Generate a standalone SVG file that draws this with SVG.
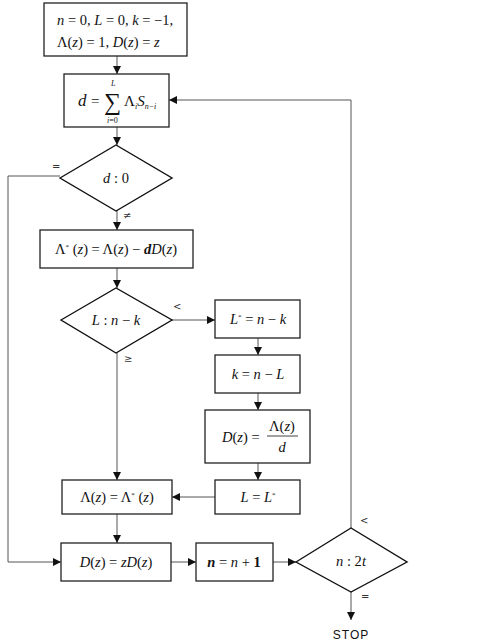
<svg xmlns="http://www.w3.org/2000/svg" width="480" height="643" viewBox="0 0 480 643">
<style>
.box{fill:#fff;stroke:#222;stroke-width:1.3}
.dia{fill:#fff;stroke:#111;stroke-width:1.4}
.ln{fill:none;stroke:#555;stroke-width:1}
.m{font-family:"Liberation Serif","DejaVu Serif",serif;font-size:14.5px;fill:#111}
.i{font-style:italic}
.b{font-weight:bold}
.lab{font-family:"DejaVu Sans",sans-serif;font-size:10px;fill:#333}
</style>
<defs>
<marker id="ah" viewBox="0 0 10 10" refX="10" refY="5" markerWidth="8" markerHeight="8" orient="auto" markerUnits="userSpaceOnUse">
<path d="M0,0 L10,5 L0,10 z" fill="#111"/>
</marker>
</defs>
<g id="connectors">
<line class="ln" x1="117" y1="56" x2="117" y2="74" marker-end="url(#ah)"/>
<line class="ln" x1="117" y1="127" x2="117" y2="145" marker-end="url(#ah)"/>
<line class="ln" x1="117" y1="211" x2="117" y2="230" marker-end="url(#ah)"/>
<line class="ln" x1="117" y1="268" x2="117" y2="288" marker-end="url(#ah)"/>
<line class="ln" x1="172" y1="320" x2="215" y2="320" marker-end="url(#ah)"/>
<line class="ln" x1="117" y1="353" x2="117" y2="480" marker-end="url(#ah)"/>
<line class="ln" x1="258" y1="338" x2="258" y2="355" marker-end="url(#ah)"/>
<line class="ln" x1="258" y1="393" x2="258" y2="410" marker-end="url(#ah)"/>
<line class="ln" x1="258" y1="463" x2="258" y2="480" marker-end="url(#ah)"/>
<line class="ln" x1="215" y1="497" x2="172" y2="497" marker-end="url(#ah)"/>
<line class="ln" x1="117" y1="514" x2="117" y2="543" marker-end="url(#ah)"/>
<polyline class="ln" points="60,176 8,176 8,562 61,562" marker-end="url(#ah)"/>
<line class="ln" x1="171" y1="562" x2="196" y2="562" marker-end="url(#ah)"/>
<line class="ln" x1="273" y1="562" x2="296" y2="562" marker-end="url(#ah)"/>
<polyline class="ln" points="351,528 351,100 169,100" marker-end="url(#ah)"/>
<line class="ln" x1="351" y1="592" x2="351" y2="620" marker-end="url(#ah)"/>
<text class="lab" x="52" y="170">=</text>
<text class="lab" x="123" y="219">≠</text>
<text class="lab" x="173" y="310">&lt;</text>
<text class="lab" x="124" y="362">≥</text>
<text class="lab" x="360" y="524">&lt;</text>
<text class="lab" x="361" y="600">=</text>
<text x="351" y="639" text-anchor="middle" style="font-family:'Liberation Sans Narrow','Liberation Sans',sans-serif;font-size:12px;letter-spacing:1px;fill:#111">STOP</text>
</g>
<g id="init">
<rect class="box" x="44" y="3" width="143" height="53"/>
<text class="m" x="57" y="25"><tspan class="i">n</tspan> = 0, <tspan class="i">L</tspan> = 0, <tspan class="i">k</tspan> = −1,</text>
<text class="m" x="57" y="47">Λ(<tspan class="i">z</tspan>) = 1, <tspan class="i">D</tspan>(<tspan class="i">z</tspan>) = <tspan class="i">z</tspan></text>
</g>
<g id="disc">
<rect class="box" x="64" y="74" width="105" height="53"/>
<text class="m i" x="78" y="106" style="font-size:17px">d</text>
<text class="m" x="91" y="106" style="font-size:15px">=</text>
<text class="m" x="104" y="110" style="font-size:24px">∑</text>
<text class="m i" x="111" y="86" style="font-size:8px">L</text>
<text class="m" x="107" y="123" style="font-size:8px"><tspan class="i">i</tspan>=0</text>
<text class="m" x="124" y="106" style="font-size:15px">Λ<tspan class="i" dy="3" style="font-size:8px">i</tspan><tspan class="i" dy="-3">S</tspan><tspan class="i" dy="3" style="font-size:8px">n−i</tspan></text>
</g>
<g id="test_d">
<polygon class="dia" points="60,178 116,145 172,178 116,211"/>
<text class="m" x="116" y="183" text-anchor="middle"><tspan class="i">d</tspan> : 0</text>
</g>
<g id="lambda_star">
<rect class="box" x="40" y="230" width="153" height="38"/>
<text class="m" x="116" y="254" text-anchor="middle">Λ<tspan dy="-5" style="font-size:7px">*</tspan><tspan dy="5"> (</tspan><tspan class="i">z</tspan>) = Λ(<tspan class="i">z</tspan>) − <tspan class="i b">d</tspan><tspan class="i">D</tspan>(<tspan class="i">z</tspan>)</text>
</g>
<g id="test_L">
<polygon class="dia" points="61,320 116,288 172,320 116,353"/>
<text class="m" x="116" y="325" text-anchor="middle"><tspan class="i">L</tspan> : <tspan class="i">n</tspan> − <tspan class="i">k</tspan></text>
</g>
<g id="Lstar">
<rect class="box" x="215" y="300" width="85" height="38"/>
<text class="m" x="258" y="324" text-anchor="middle"><tspan class="i">L</tspan><tspan dy="-5" style="font-size:7px">*</tspan><tspan dy="5"> = </tspan><tspan class="i">n</tspan> − <tspan class="i">k</tspan></text>
</g>
<g id="kset">
<rect class="box" x="215" y="355" width="85" height="38"/>
<text class="m" x="258" y="379" text-anchor="middle"><tspan class="i">k</tspan> = <tspan class="i">n</tspan> − <tspan class="i">L</tspan></text>
</g>
<g id="Dset">
<rect class="box" x="205" y="410" width="105" height="53"/>
<text class="m" x="222" y="442"><tspan class="i">D</tspan>(<tspan class="i">z</tspan>) =</text>
<text class="m" x="282" y="431" text-anchor="middle">Λ(<tspan class="i">z</tspan>)</text>
<line x1="267" y1="436" x2="298" y2="436" stroke="#111" stroke-width="0.8"/>
<text class="m i" x="282" y="452" text-anchor="middle">d</text>
</g>
<g id="Lset">
<rect class="box" x="215" y="480" width="85" height="34"/>
<text class="m" x="258" y="502" text-anchor="middle"><tspan class="i">L</tspan> = <tspan class="i">L</tspan><tspan dy="-5" style="font-size:7px">*</tspan></text>
</g>
<g id="lambda_set">
<rect class="box" x="62" y="480" width="110" height="34"/>
<text class="m" x="117" y="502" text-anchor="middle">Λ(<tspan class="i">z</tspan>) = Λ<tspan dy="-5" style="font-size:7px">*</tspan><tspan dy="5"> (</tspan><tspan class="i">z</tspan>)</text>
</g>
<g id="Dshift">
<rect class="box" x="61" y="543" width="110" height="38"/>
<text class="m" x="116" y="567" text-anchor="middle"><tspan class="i">D</tspan>(<tspan class="i">z</tspan>) = <tspan class="i">zD</tspan>(<tspan class="i">z</tspan>)</text>
</g>
<g id="ninc">
<rect class="box" x="196" y="543" width="77" height="38"/>
<text class="m" x="234" y="567" text-anchor="middle"><tspan class="i b">n</tspan> = <tspan class="i">n</tspan> + <tspan class="b">1</tspan></text>
</g>
<g id="test_n">
<polygon class="dia" points="296,562 351,528 407,562 351,592"/>
<text class="m" x="351" y="566" text-anchor="middle"><tspan class="i">n</tspan> : 2<tspan class="i">t</tspan></text>
</g>
</svg>
